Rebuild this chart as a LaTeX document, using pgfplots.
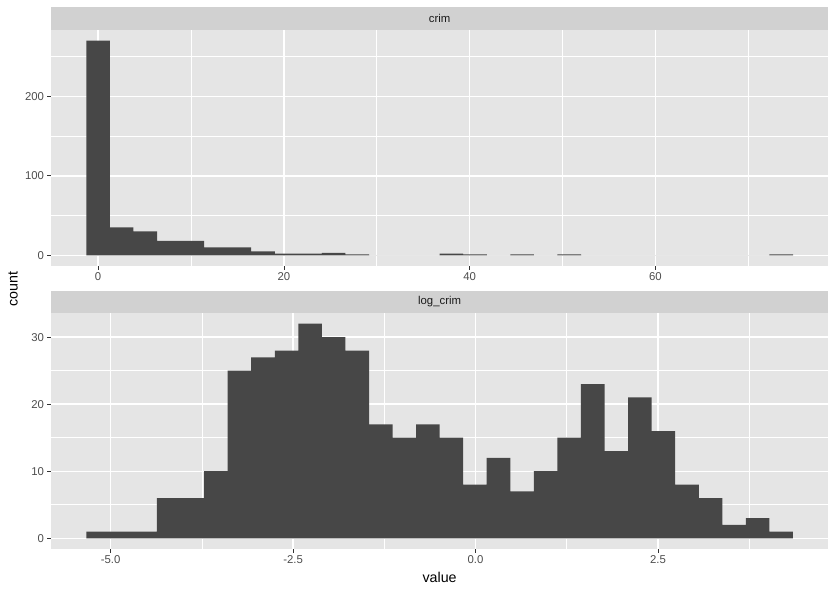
\documentclass[border=0pt]{standalone}
\usepackage{fontspec}
\setmainfont{Liberation Sans}
\usepackage{pgfplots}
\pgfplotsset{compat=1.18}
\usepackage{pgfplotstable}
\definecolor{panelc}{HTML}{E5E5E5}
\definecolor{stripc}{HTML}{D1D1D1}
\definecolor{barc}{HTML}{474747}
\definecolor{tickc}{HTML}{333333}
\definecolor{labc}{HTML}{4D4D4D}
\definecolor{titc}{HTML}{1A1A1A}

\pgfplotstableread{
x y
-1.261 270
1.274 35
3.809 30
6.345 18
8.880 18
11.416 10
13.951 10
16.487 5
19.022 2
21.558 2
24.093 3
26.629 1
29.164 0
31.700 0
34.235 0
36.770 2
39.306 1
41.841 0
44.377 1
46.912 0
49.448 1
51.983 0
54.519 0
57.054 0
59.590 0
62.125 0
64.661 0
67.196 0
69.732 0
72.265 1
74.801 0
}\crimtab

\pgfplotstableread{
x y
-5.333 1
-5.010 1
-4.688 1
-4.365 6
-4.042 6
-3.719 10
-3.397 25
-3.074 27
-2.751 28
-2.428 32
-2.106 30
-1.783 28
-1.460 17
-1.138 15
-0.815 17
-0.492 15
-0.169 8
0.153 12
0.476 7
0.799 10
1.122 15
1.444 23
1.767 13
2.090 21
2.412 16
2.735 8
3.058 6
3.381 2
3.703 3
4.026 1
4.349 0
}\logtab

\pgfplotsset{gg/.style={
  scale only axis, width=777.3bp, height=236bp, anchor=north west,
  axis background/.style={fill=panelc},
  axis line style={draw=none},
  xmajorgrids=true, ymajorgrids=true, xminorgrids=true, yminorgrids=true,
  major grid style={white, line width=1.4bp},
  minor grid style={white, line width=0.7bp},
  tick align=outside, xtick pos=left, ytick pos=left,
  major tick length=3.6bp, minor tick length=0pt,
  tick style={tickc, line width=0.7bp},
  ticklabel style={font=\fontsize{11.4}{13}\selectfont, text=labc, inner sep=3.2bp},
  /pgf/number format/assume math mode=true,
}}

\begin{document}
\begin{tikzpicture}
\path (0,0) rectangle (836bp,-592bp);
% strips
\fill[stripc] (51bp,-7.3bp) rectangle (828.3bp,-30bp);
\node[text=titc, font=\fontsize{11.4}{13}\selectfont] at (439.6bp,-18.7bp) {crim};
\fill[stripc] (51bp,-291bp) rectangle (828.3bp,-313bp);
\node[text=titc, font=\fontsize{11.4}{13}\selectfont] at (439.6bp,-302bp) {log\_crim};

\begin{axis}[gg, at={(51bp,-30bp)},
  xmin=-5.065, xmax=78.60, ymin=-13.5, ymax=283.5,
  xtick={0,20,40,60}, minor xtick={10,30,50,70},
  ytick={0,100,200}, minor ytick={50,150,250}]
\addplot[ybar interval, fill=barc, draw=none] table[x=x, y=y] {\crimtab};
\end{axis}

\begin{axis}[gg, at={(51bp,-313bp)},
  xmin=-5.817, xmax=4.833, ymin=-1.6, ymax=33.6,
  xtick={-5,-2.5,0,2.5}, xticklabels={-5.0,-2.5,0.0,2.5},
  minor xtick={-3.75,-1.25,1.25,3.75},
  ytick={0,10,20,30}, minor ytick={5,15,25}]
\addplot[ybar interval, fill=barc, draw=none] table[x=x, y=y] {\logtab};
\end{axis}

\node[rotate=90, text=black, font=\fontsize{14.3}{16}\selectfont] at (13bp,-289bp) {count};
\node[text=black, font=\fontsize{14.3}{16}\selectfont] at (439.6bp,-577bp) {value};
\end{tikzpicture}
\end{document}
